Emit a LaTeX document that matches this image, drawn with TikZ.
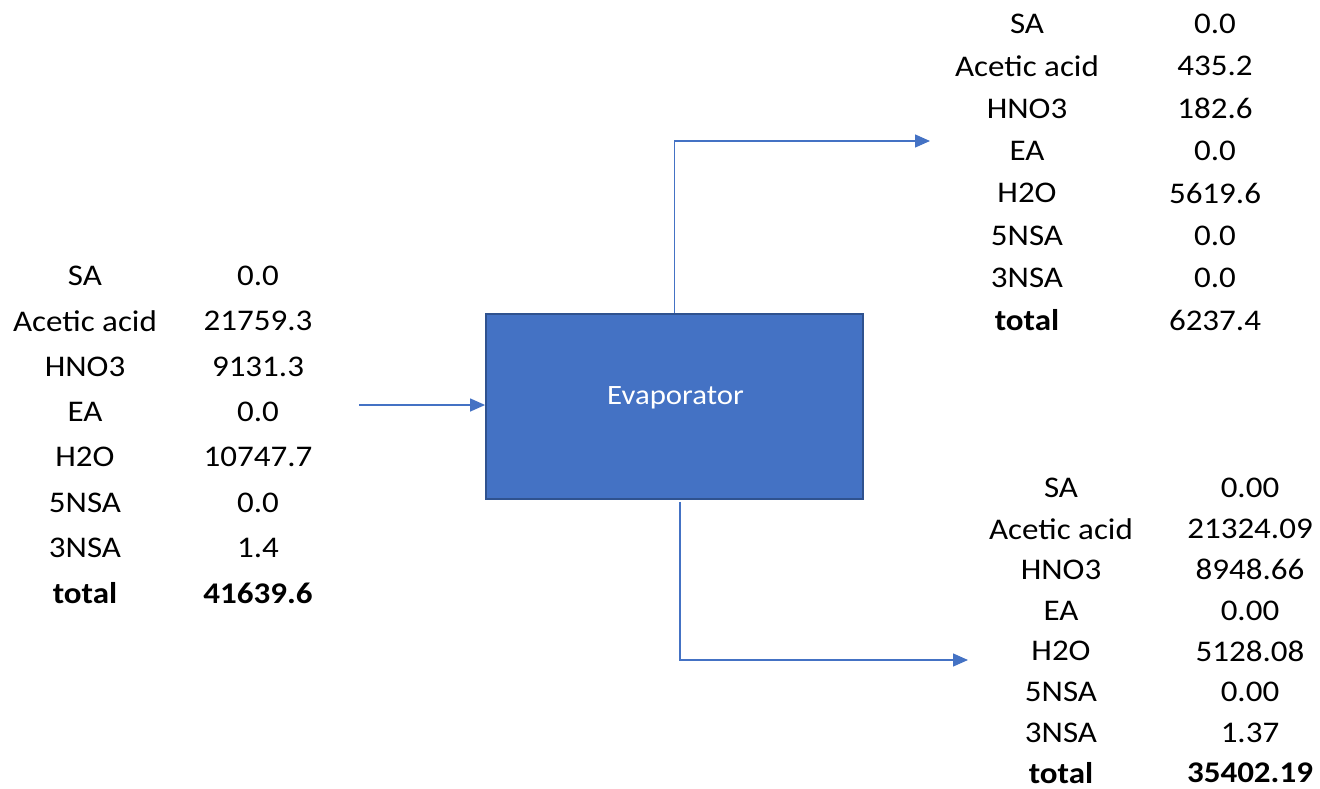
\documentclass[tikz,border=0pt]{standalone}
\usepackage{fontspec}
\setmainfont{Carlito}[FakeStretch=1.1]
\usetikzlibrary{arrows.meta,calc}
\definecolor{boxblue}{HTML}{4472C4}
\definecolor{boxedge}{HTML}{2F528F}
\tikzset{
  celltxt/.style={inner sep=0pt, anchor=center, font=\fontsize{30}{36}\selectfont},
  boldtxt/.style={celltxt, font=\fontsize{30}{36}\selectfont\bfseries},
  flow/.style={draw=boxblue, line width=1.3pt, -{Triangle[length=15pt,width=13pt]}},
  unitbox/.style={draw=boxedge, line width=1.8pt, fill=boxblue, minimum width=377pt, minimum height=185pt, inner sep=0pt},
  unittxt/.style={inner sep=0pt, text=white, font=\fontsize{28}{34}\selectfont}
}
\begin{document}
\begin{tikzpicture}[x=1pt,y=-1pt]
\useasboundingbox (0,0) rectangle (1320,789);
% evaporator
\node[unitbox] (evap) at (674.5,406.5) {};
\node[unittxt] (evaptxt) at ($(evap.center)+(1,-9)$) {Evaporator};
% left feed table
\foreach \lab/\val [count=\i] in {SA/0.0,Acetic acid/21759.3,HNO3/9131.3,EA/0.0,H2O/10747.7,5NSA/0.0,3NSA/1.4}{
  \node[celltxt] (fl\i) at (85,{276+(\i-1)*45.3}) {\lab};
  \node[celltxt] (fv\i) at (258,{276+(\i-1)*45.3}) {\val};
}
\node[boldtxt] (fl8) at (85,593) {total};
\node[boldtxt] (fv8) at (258,593) {41639.6};
% top product table
\foreach \lab/\val [count=\i] in {SA/0.0,Acetic acid/435.2,HNO3/182.6,EA/0.0,H2O/5619.6,5NSA/0.0,3NSA/0.0}{
  \node[celltxt] (tl\i) at (1027,{24+(\i-1)*42.3}) {\lab};
  \node[celltxt] (tv\i) at (1215,{24+(\i-1)*42.3}) {\val};
}
\node[boldtxt] (tl8) at (1027,320) {total};
\node[celltxt] (tv8) at (1215,320) {6237.4};
% bottom product table
\foreach \lab/\val [count=\i] in {SA/0.00,Acetic acid/21324.09,HNO3/8948.66,EA/0.00,H2O/5128.08,5NSA/0.00,3NSA/1.37}{
  \node[celltxt] (bl\i) at (1061,{488+(\i-1)*40.8}) {\lab};
  \node[celltxt] (bv\i) at (1250,{488+(\i-1)*40.8}) {\val};
}
\node[boldtxt] (bl8) at (1061,773) {total};
\node[boldtxt] (bv8) at (1250,773) {35402.19};
% connectors
\coordinate (feedstart) at (359,405);
\coordinate (topend) at (930,141);
\coordinate (botstart) at ($(evap.south)+(5.5,2)$);
\coordinate (botend) at (968,660);
\draw[flow] (feedstart) -- (evap.west |- feedstart);
\draw[flow] (evap.north) |- (topend);
\draw[flow] (botstart) |- (botend);
\end{tikzpicture}
\end{document}
